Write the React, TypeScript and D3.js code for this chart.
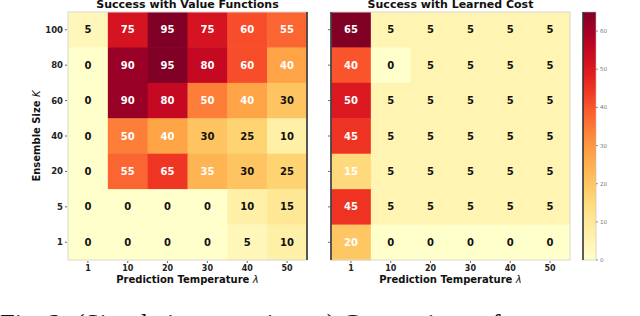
import React, { useRef, useEffect } from 'react';
import * as d3 from 'd3';

// Data
const temperatures = ['1', '10', '20', '30', '40', '50'];
const ensembleSizes = ['100', '80', '60', '40', '20', '5', '1'];

const valueFunctionSuccess = [
  [5, 75, 95, 75, 60, 55],
  [0, 90, 95, 80, 60, 40],
  [0, 90, 80, 50, 40, 30],
  [0, 50, 40, 30, 25, 10],
  [0, 55, 65, 35, 30, 25],
  [0, 0, 0, 0, 10, 15],
  [0, 0, 0, 0, 5, 10]
];

const learnedCostSuccess = [
  [65, 5, 5, 5, 5, 5],
  [40, 0, 5, 5, 5, 5],
  [50, 5, 5, 5, 5, 5],
  [45, 5, 5, 5, 5, 5],
  [15, 5, 5, 5, 5, 5],
  [45, 5, 5, 5, 5, 5],
  [20, 0, 0, 0, 0, 0]
];

const colorbarTicks = [0, 10, 20, 30, 40, 50, 60];
const panelTitles = ['Success with Value Functions', 'Success with Learned Cost'];

const W = 640;
const H = 316;
const FONT = '"DejaVu Sans", sans-serif';

const App: React.FC = () => {
  const svgRef = useRef<SVGSVGElement | null>(null);

  useEffect(() => {
    const svg = d3.select(svgRef.current);
    svg.selectAll('*').remove();

    const top = 12;
    const bottom = 260;
    const panels = [
      { left: 68, right: 307, data: valueFunctionSuccess, whiteFrom: 32, showLabels: true, edge: 'right' },
      { left: 331, right: 570, data: learnedCostSuccess, whiteFrom: 12, showLabels: false, edge: 'left' }
    ];

    panels.forEach((p, pi) => {
      const x = d3.scaleBand().domain(temperatures).range([p.left, p.right]);
      const y = d3.scaleBand().domain(ensembleSizes).range([top, bottom]);
      const vmax = d3.max(p.data.flat()) as number;
      const color = d3.scaleSequential(d3.interpolateYlOrRd).domain([0, vmax]);

      const g = svg.append('g');

      // cells
      p.data.forEach((row, ri) => {
        row.forEach((v, ci) => {
          g.append('rect')
            .attr('x', x(temperatures[ci])!)
            .attr('y', y(ensembleSizes[ri])!)
            .attr('width', x.bandwidth() + 0.5)
            .attr('height', y.bandwidth() + 0.5)
            .attr('fill', color(v));

          g.append('text')
            .attr('x', x(temperatures[ci])! + x.bandwidth() / 2)
            .attr('y', y(ensembleSizes[ri])! + y.bandwidth() / 2)
            .attr('dy', '0.36em')
            .attr('text-anchor', 'middle')
            .style('font-family', FONT)
            .style('font-weight', 'bold')
            .style('font-size', '10px')
            .attr('fill', v >= p.whiteFrom ? '#ffffff' : '#111111')
            .text(v);
        });
      });

      // spines
      g.append('rect')
        .attr('x', p.left)
        .attr('y', top)
        .attr('width', p.right - p.left)
        .attr('height', bottom - top)
        .attr('fill', 'none')
        .attr('stroke', '#d8d8d8')
        .attr('stroke-width', 1);

      const edgeX = p.edge === 'right' ? p.right : p.left;
      g.append('line')
        .attr('x1', edgeX)
        .attr('x2', edgeX)
        .attr('y1', top)
        .attr('y2', bottom)
        .attr('stroke', '#333')
        .attr('stroke-width', 1.6);

      // y ticks
      ensembleSizes.forEach(k => {
        const cy = y(k)! + y.bandwidth() / 2;
        g.append('line')
          .attr('x1', p.left - 3)
          .attr('x2', p.left - 1)
          .attr('y1', cy)
          .attr('y2', cy)
          .attr('stroke', '#444')
          .attr('stroke-width', 0.8);
        if (p.showLabels) {
          g.append('text')
            .attr('x', p.left - 5)
            .attr('y', cy)
            .attr('dy', '0.36em')
            .attr('text-anchor', 'end')
            .style('font-family', FONT)
            .style('font-weight', 'bold')
            .style('font-size', '8.5px')
            .attr('fill', '#222')
            .text(k);
        }
      });

      // x ticks
      temperatures.forEach(t => {
        const cx = x(t)! + x.bandwidth() / 2;
        g.append('line')
          .attr('x1', cx)
          .attr('x2', cx)
          .attr('y1', bottom + 1)
          .attr('y2', bottom + 3)
          .attr('stroke', '#444')
          .attr('stroke-width', 0.8);
        g.append('text')
          .attr('x', cx)
          .attr('y', 271)
          .attr('text-anchor', 'middle')
          .style('font-family', FONT)
          .style('font-weight', 'bold')
          .style('font-size', '8px')
          .attr('fill', '#222')
          .text(t);
      });

      const mid = (p.left + p.right) / 2;

      // x label
      const xl = g.append('text')
        .attr('x', mid)
        .attr('y', 283)
        .attr('text-anchor', 'middle')
        .style('font-family', FONT)
        .style('font-weight', 'bold')
        .style('font-size', '10px')
        .attr('fill', '#111');
      xl.append('tspan').text('Prediction Temperature ');
      xl.append('tspan').style('font-style', 'italic').style('font-weight', 'normal').text('λ');

      // title (top is cropped in the source figure)
      g.append('text')
        .attr('x', mid)
        .attr('y', 7.5)
        .attr('text-anchor', 'middle')
        .style('font-family', FONT)
        .style('font-weight', 'bold')
        .style('font-size', '11px')
        .attr('fill', '#111')
        .text(panelTitles[pi]);

      if (p.showLabels) {
        const yl = g.append('text')
          .attr('transform', `translate(40,${(top + bottom) / 2}) rotate(-90)`)
          .attr('text-anchor', 'middle')
          .style('font-family', FONT)
          .style('font-weight', 'bold')
          .style('font-size', '10px')
          .attr('fill', '#111');
        yl.append('tspan').text('Ensemble Size ');
        yl.append('tspan').style('font-style', 'italic').style('font-weight', 'normal').text('K');
      }
    });

    // colorbar (for learned cost panel)
    const cbX = 583;
    const cbW = 13;
    const cbMax = d3.max(learnedCostSuccess.flat()) as number;
    const cbScale = d3.scaleLinear().domain([0, cbMax]).range([bottom, top]);

    const defs = svg.append('defs');
    const grad = defs.append('linearGradient')
      .attr('id', 'cbgrad')
      .attr('x1', 0).attr('y1', 1).attr('x2', 0).attr('y2', 0);
    d3.range(0, 1.0001, 0.05).forEach(t => {
      grad.append('stop')
        .attr('offset', t)
        .attr('stop-color', d3.interpolateYlOrRd(t));
    });

    svg.append('rect')
      .attr('x', cbX)
      .attr('y', top)
      .attr('width', cbW)
      .attr('height', bottom - top)
      .attr('fill', 'url(#cbgrad)')
      .attr('stroke', '#bbb')
      .attr('stroke-width', 0.6);

    svg.append('line')
      .attr('x1', cbX).attr('x2', cbX)
      .attr('y1', top).attr('y2', bottom)
      .attr('stroke', '#222')
      .attr('stroke-width', 1.4);

    colorbarTicks.forEach(v => {
      const ty = cbScale(v);
      svg.append('line')
        .attr('x1', cbX + cbW)
        .attr('x2', cbX + cbW + 2)
        .attr('y1', ty)
        .attr('y2', ty)
        .attr('stroke', '#666')
        .attr('stroke-width', 0.7);
      svg.append('text')
        .attr('x', cbX + cbW + 4)
        .attr('y', ty)
        .attr('dy', '0.36em')
        .style('font-family', FONT)
        .style('font-size', '5.5px')
        .attr('fill', '#777')
        .text(v);
    });

    // caption (bottom is cropped in the source figure)
    svg.append('text')
      .attr('x', 0)
      .attr('y', 332.5)
      .style('font-family', '"Liberation Serif", serif')
      .style('font-size', '26.5px')
      .attr('fill', '#111')
      .text('Fig. 2: (Simulation experiment) Comparison of success rates');
  }, []);

  return (
    <svg
      ref={svgRef}
      width={W}
      height={H}
      style={{ position: 'absolute', left: 0, top: 0, background: 'white' }}
    />
  );
};

export default App;
